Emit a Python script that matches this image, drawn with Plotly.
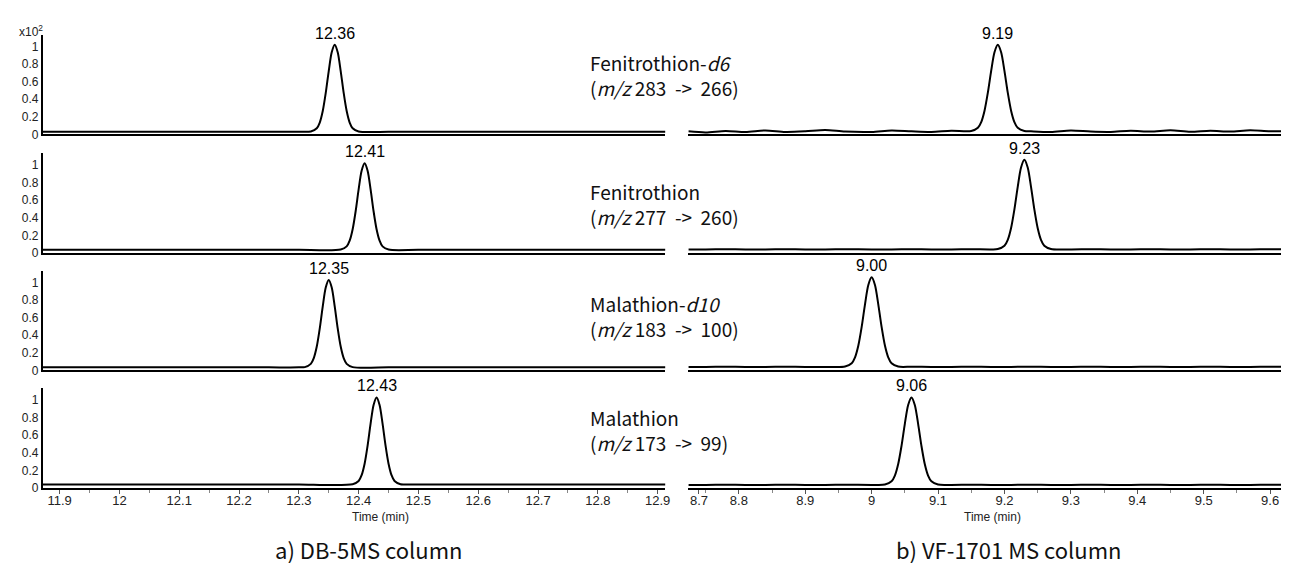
import plotly.graph_objects as go

# ---------------- data ----------------
compounds = ["Fenitrothion-<i>d6</i>", "Fenitrothion", "Malathion-<i>d10</i>", "Malathion"]
transitions = ["(<i>m/z</i> 283\u00a0 -> \u00a0266)", "(<i>m/z</i> 277\u00a0 -> \u00a0260)",
               "(<i>m/z</i> 183\u00a0 -> \u00a0100)", "(<i>m/z</i> 173\u00a0 -> \u00a099)"]

# retention times (min) of the peaks, DB-5MS column (left) and VF-1701 MS column (right)
rt_left = [12.36, 12.41, 12.35, 12.43]
rt_right = [9.19, 9.23, 9.00, 9.06]
rt_labels_left = ["12.36", "12.41", "12.35", "12.43"]
rt_labels_right = ["9.19", "9.23", "9.00", "9.06"]

# apex heights (x10^2 counts, relative)
apex_left = [1.02, 1.02, 1.03, 1.03]
apex_right = [1.02, 1.06, 1.06, 1.03]

# peak profile: offset from apex (min) and relative height
profile_offset = [-0.040, -0.030, -0.025, -0.020, -0.015, -0.010, -0.005, 0.0,
                  0.005, 0.010, 0.015, 0.020, 0.025, 0.030, 0.040]
profile_shape = [0.003, 0.040, 0.106, 0.238, 0.446, 0.698, 0.914, 1.0,
                 0.914, 0.698, 0.446, 0.238, 0.106, 0.040, 0.003]

# baseline samples
base_t_left = [11.872, 11.95, 12.05, 12.15, 12.25, 12.30, 12.45, 12.50, 12.60, 12.70, 12.80, 12.913]
base_left = [
    [0.030, 0.030, 0.030, 0.030, 0.030, 0.030, 0.030, 0.030, 0.030, 0.030, 0.030, 0.030],
    [0.035, 0.035, 0.035, 0.035, 0.035, 0.035, 0.035, 0.035, 0.035, 0.035, 0.035, 0.035],
    [0.035, 0.035, 0.035, 0.035, 0.035, 0.035, 0.035, 0.035, 0.035, 0.035, 0.035, 0.035],
    [0.040, 0.040, 0.040, 0.040, 0.040, 0.040, 0.040, 0.040, 0.040, 0.040, 0.040, 0.040],
]
base_t_right = [8.724, 8.75, 8.78, 8.81, 8.84, 8.87, 8.90, 8.93, 8.96, 9.00, 9.03, 9.06,
                9.09, 9.12, 9.15, 9.18, 9.21, 9.24, 9.27, 9.30, 9.33, 9.36, 9.39, 9.42,
                9.45, 9.48, 9.51, 9.54, 9.57, 9.60, 9.633]
base_right = [
    [0.035, 0.022, 0.040, 0.028, 0.045, 0.028, 0.035, 0.050, 0.032, 0.028, 0.045, 0.035,
     0.028, 0.042, 0.035, 0.035, 0.035, 0.035, 0.028, 0.045, 0.032, 0.028, 0.042, 0.032,
     0.046, 0.030, 0.042, 0.032, 0.046, 0.035, 0.040],
    [0.040, 0.040, 0.042, 0.040, 0.040, 0.042, 0.040, 0.040, 0.042, 0.040, 0.040, 0.042,
     0.040, 0.040, 0.042, 0.040, 0.040, 0.042, 0.040, 0.040, 0.042, 0.040, 0.040, 0.042,
     0.040, 0.040, 0.042, 0.040, 0.040, 0.042, 0.040],
    [0.040, 0.040, 0.042, 0.040, 0.040, 0.042, 0.040, 0.040, 0.042, 0.040, 0.040, 0.042,
     0.040, 0.040, 0.042, 0.040, 0.040, 0.042, 0.040, 0.040, 0.042, 0.040, 0.040, 0.042,
     0.040, 0.040, 0.042, 0.040, 0.040, 0.042, 0.040],
    [0.035, 0.035, 0.036, 0.035, 0.035, 0.036, 0.035, 0.035, 0.036, 0.035, 0.035, 0.036,
     0.035, 0.035, 0.036, 0.035, 0.035, 0.036, 0.035, 0.035, 0.036, 0.035, 0.035, 0.036,
     0.035, 0.035, 0.036, 0.035, 0.035, 0.036, 0.035],
]

# axis ticks (the software draws the first label of the right axis at the axis start)
ticks_left = [11.9, 12.0, 12.1, 12.2, 12.3, 12.4, 12.5, 12.6, 12.7, 12.8, 12.9]
ticktext_left = ["11.9", "12", "12.1", "12.2", "12.3", "12.4", "12.5", "12.6", "12.7", "12.8", "12.9"]
ticks_right = [8.74, 8.8, 8.9, 9.0, 9.1, 9.2, 9.3, 9.4, 9.5, 9.6]
ticktext_right = ["8.7", "8.8", "8.9", "9", "9.1", "9.2", "9.3", "9.4", "9.5", "9.6"]
y_ticks = [0, 0.2, 0.4, 0.6, 0.8, 1.0]
y_ticktext = ["0", "0.2", "0.4", "0.6", "0.8", "1"]

range_left = [11.872, 12.913]
range_right = [8.724, 9.633]
captions = ["a) DB-5MS column", "b) VF-1701 MS column"]
x_title = "Time (min)"

# ---------------- layout helpers ----------------
W, H = 1289, 563
def px_x(x):
    return x / W
def px_y(y):
    return 1 - y / H

row_zero = [128, 248, 367, 486]
row_h = 101
col_dom = [[px_x(35), px_x(660)], [px_x(683), px_x(1289)]]
label_center_y = [68, 198, 312, 427]

ARIAL = "Liberation Sans, Arial, sans-serif"
XTICKFONT = dict(family=ARIAL, size=13, color="#222")
YTICKFONT = dict(family=ARIAL, size=12, color="#222")
KFONT = "Noto Sans CJK KR, Noto Sans, sans-serif"


def build_trace(base_t, base_v, rt, apex):
    lo, hi = rt + profile_offset[0], rt + profile_offset[-1]
    pts = [(t, v) for t, v in zip(base_t, base_v) if t < lo - 0.005 or t > hi + 0.005]
    b = sum(base_v) / len(base_v)
    pts += [(rt + o, b + (apex - b) * s) for o, s in zip(profile_offset, profile_shape)]
    pts.sort()
    return [p[0] for p in pts], [p[1] for p in pts]


fig = go.Figure()
layout = dict(width=W, height=H, margin=dict(l=0, r=0, t=0, b=0),
              plot_bgcolor="white", paper_bgcolor="white", showlegend=False)
annotations = []

for r in range(4):
    for c in range(2):
        k = r * 2 + c + 1
        xname = "xaxis" if k == 1 else f"xaxis{k}"
        yname = "yaxis" if k == 1 else f"yaxis{k}"
        xref = "x" if k == 1 else f"x{k}"
        yref = "y" if k == 1 else f"y{k}"
        if c == 0:
            tx, ty = build_trace(base_t_left, base_left[r], rt_left[r], apex_left[r])
            rng, tv, tt = range_left, ticks_left, ticktext_left
            rt, ap, lab = rt_left[r], apex_left[r], rt_labels_left[r]
        else:
            tx, ty = build_trace(base_t_right, base_right[r], rt_right[r], apex_right[r])
            rng, tv, tt = range_right, ticks_right, ticktext_right
            rt, ap, lab = rt_right[r], apex_right[r], rt_labels_right[r]
        fig.add_trace(go.Scatter(x=tx, y=ty, mode="lines", xaxis=xref, yaxis=yref,
                                 line=dict(color="black", width=2, shape="spline", smoothing=0.8),
                                 hoverinfo="skip"))
        xa = dict(domain=col_dom[c], range=rng, anchor=yref, showgrid=False, zeroline=False,
                  showline=True, linecolor="black", linewidth=1.6, fixedrange=True)
        if r == 3:
            xa.update(tickvals=tv, ticktext=tt, ticks="outside", ticklen=4, tickcolor="#555",
                      tickwidth=1, tickfont=XTICKFONT, ticklabelstandoff=-4,
                      minor=dict(dtick=0.05, ticks="outside", ticklen=3, tickcolor="#888"))
        else:
            xa.update(showticklabels=False, ticks="")
        layout[xname] = xa
        ya = dict(domain=[px_y(row_zero[r]), px_y(row_zero[r] - row_h)], range=[0, 1.135],
                  anchor=xref, showgrid=False, zeroline=False, fixedrange=True)
        if c == 0:
            ya.update(showline=True, linecolor="black", linewidth=2, tickvals=y_ticks,
                      ticktext=y_ticktext, ticks="", tickfont=YTICKFONT)
        else:
            ya.update(visible=False)
        layout[yname] = ya
        annotations.append(dict(x=rt, y=ap, xref=xref, yref=yref, text=lab, showarrow=False,
                                xanchor="center", yanchor="bottom", yshift=1,
                                font=dict(family=ARIAL, size=16, color="black")))
    # compound label (two lines)
    annotations.append(dict(x=px_x(582), y=px_y(label_center_y[r]), xref="paper", yref="paper",
                            text=compounds[r] + "<br>" + transitions[r], showarrow=False,
                            xanchor="left", yanchor="middle", align="left",
                            font=dict(family=KFONT, size=19, color="#111")))

# axis titles
annotations.append(dict(x=px_x(374), y=px_y(515), xref="paper", yref="paper", text=x_title,
                        showarrow=False, xanchor="center", yanchor="middle",
                        font=dict(family=ARIAL, size=12, color="#222")))
annotations.append(dict(x=px_x(988), y=px_y(515), xref="paper", yref="paper", text=x_title,
                        showarrow=False, xanchor="center", yanchor="middle",
                        font=dict(family=ARIAL, size=12, color="#222")))
# multiplier label
annotations.append(dict(x=px_x(9), y=px_y(23), xref="paper", yref="paper", text="x10<sup>2</sup>",
                        showarrow=False, xanchor="left", yanchor="middle",
                        font=dict(family=ARIAL, size=12, color="#222")))
# captions
annotations.append(dict(x=px_x(362), y=px_y(548), xref="paper", yref="paper", text=captions[0],
                        showarrow=False, xanchor="center", yanchor="middle",
                        font=dict(family=KFONT, size=22, color="#111")))
annotations.append(dict(x=px_x(1004), y=px_y(548), xref="paper", yref="paper", text=captions[1],
                        showarrow=False, xanchor="center", yanchor="middle",
                        font=dict(family=KFONT, size=22, color="#111")))

layout["annotations"] = annotations
fig.update_layout(**layout)
fig.write_html("out.html")
